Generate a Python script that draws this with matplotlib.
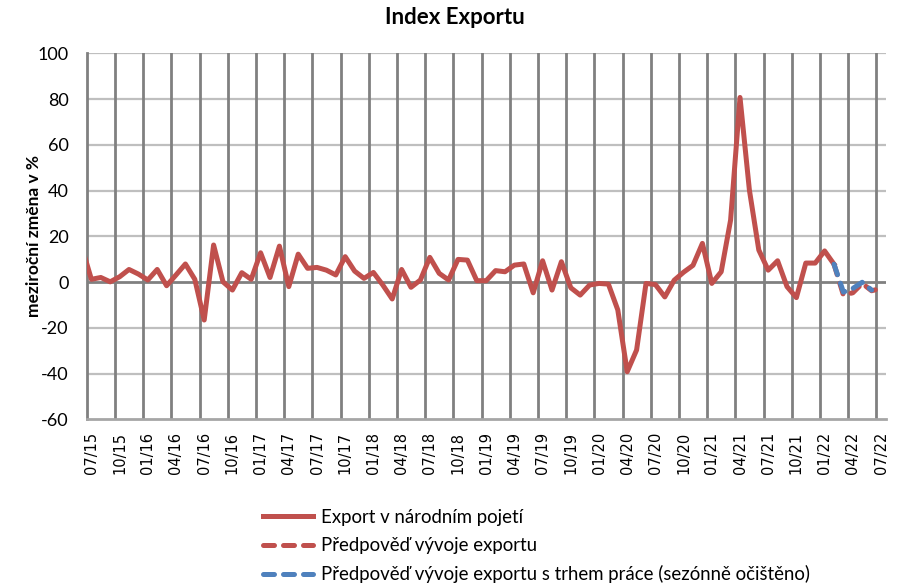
import matplotlib.pyplot as plt
import numpy as np

plt.rcParams['font.family'] = ['Lato', 'DejaVu Sans']
plt.rcParams['axes.unicode_minus'] = False

RED = '#C0504D'
BLUE = '#4F81BD'

tick_labels = ['07/15', '10/15', '01/16', '04/16', '07/16', '10/16', '01/17', '04/17',
               '07/17', '10/17', '01/18', '04/18', '07/18', '10/18', '01/19', '04/19',
               '07/19', '10/19', '01/20', '04/20', '07/20', '10/20', '01/21', '04/21',
               '07/21', '10/21', '01/22', '04/22', '07/22']

# monthly y/y change in %, 06/15 .. 02/22
export = [15.0, 1.2, 2.0, 0.1, 2.3, 5.5, 3.5, 0.9, 5.5, -1.6, 3.1, 7.9, 1.2, -16.6,
          16.2, 0.1, -3.5, 4.1, 1.2, 12.8, 2.0, 15.7, -2.0, 12.2, 6.0, 6.4, 5.2, 3.1,
          11.1, 4.8, 1.6, 4.2, -1.3, -7.4, 5.5, -2.3, 0.9, 10.8, 3.8, 0.9, 9.9, 9.6,
          0.6, 0.6, 5.0, 4.5, 7.4, 7.9, -4.7, 9.3, -3.5, 8.9, -2.5, -5.7, -1.3, -0.6,
          -0.9, -12.2, -39.2, -29.7, -0.6, -1.1, -6.5, 0.8, 4.3, 7.3, 16.9, -0.6, 4.5,
          27.1, 80.7, 40.2, 14.0, 5.2, 9.3, -2.0, -6.8, 8.3, 8.3, 13.6, 7.8]
# forecasts, 02/22 .. 07/22
forecast = [7.8, -5.7, -4.7, -0.6, -3.8, -2.8]
forecast_labour = [7.8, -4.4, -2.8, -0.1, -3.5]

n_months = 85  # 07/15 .. 07/22

fig = plt.figure(figsize=(9.13, 5.86), dpi=100)
ax = fig.add_axes([86.7 / 913, 1 - 419.3 / 586, 799 / 913, 366 / 586])

# grid
for yv in range(-40, 101, 20):
    if yv == 0:
        continue
    ax.axhline(yv, color='#BFBFBF', lw=1.6, zorder=1)
for xv in range(3, n_months, 3):
    ax.axvline(xv, color='#808080', lw=2, zorder=1)
ax.axhline(0, color='#808080', lw=2, zorder=1)

x_exp = np.arange(len(export)) - 1 + 0.5
start = len(export) - 2
x_fc = np.arange(len(forecast)) + start + 0.5
x_fl = np.arange(len(forecast_labour)) + start + 0.5

ax.plot(x_exp, export, color=RED, lw=3.6, solid_joinstyle='round', zorder=3,
        label='Export v národním pojetí')
ax.plot(x_fc, forecast, color=RED, lw=3.6, linestyle=(0, (2.2, 1.8)),
        dash_capstyle='round', zorder=3, label='Předpověď vývoje exportu')
ax.plot(x_fl, forecast_labour, color=BLUE, lw=3.6, linestyle=(0, (2.2, 1.8)),
        dash_capstyle='round', zorder=4,
        label='Předpověď vývoje exportu s trhem práce (sezónně očištěno)')

ax.set_xlim(0, n_months)
ax.set_ylim(-60, 100)
ax.set_yticks(range(-60, 101, 20))
ax.set_xticks(np.arange(0, n_months, 3) + 0.5)
ax.set_xticklabels(tick_labels, rotation=90, fontfamily='DejaVu Sans', fontsize=10.5)
ax.tick_params(axis='y', length=0, pad=13, labelsize=13)
ax.tick_params(axis='x', length=0, pad=9)

for s in ['top', 'right']:
    ax.spines[s].set_visible(False)
ax.spines['left'].set_color('#808080')
ax.spines['left'].set_linewidth(2)
ax.spines['bottom'].set_color('#A6A6A6')
ax.spines['bottom'].set_linewidth(2)

fig.text(455 / 913, 1 - 18 / 586, 'Index Exportu', ha='center', va='center',
         fontsize=16, fontweight='bold')
fig.text(34 / 913, 1 - 236 / 586, 'meziroční změna v %', ha='center', va='center',
         rotation=90, fontsize=12.5, fontweight='bold')

fig.legend(loc='upper left', bbox_to_anchor=(263 / 913, 1 - 509 / 586), frameon=False,
           fontsize=13.4, handlelength=2.7, handletextpad=0.4, labelspacing=0.6,
           borderpad=0, borderaxespad=0)

fig.savefig('out.png', dpi=100)
